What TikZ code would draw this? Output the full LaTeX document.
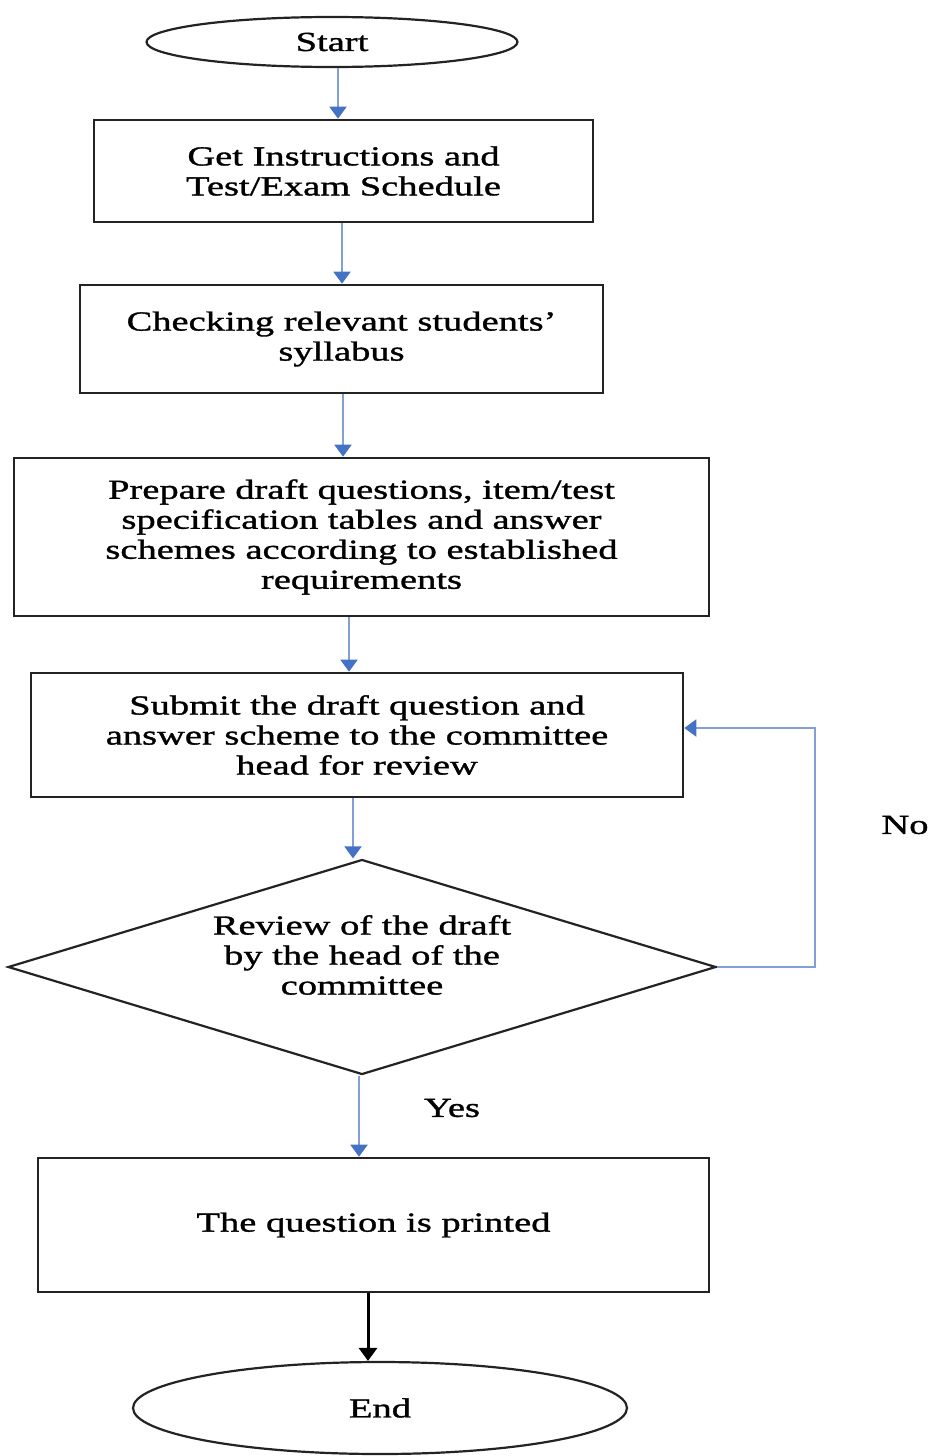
\documentclass[tikz,border=0pt]{standalone}
\usepackage{fontspec}
\setmainfont{Liberation Serif}[FakeStretch=1.4,FakeBold=1.2]
\usetikzlibrary{shapes.geometric,arrows.meta}
\definecolor{lineblue}{RGB}{130,160,215}
\definecolor{tipblue}{RGB}{68,114,196}
\definecolor{boxline}{RGB}{35,35,35}
\begin{document}
\begin{tikzpicture}[x=1pt,y=-1pt,
 every node/.style={font=\fontsize{27.5}{30}\selectfont, align=center},
 proc/.style={draw=boxline, line width=2.6pt, rectangle, inner sep=0pt},
 term/.style={draw=boxline, line width=2.2pt, ellipse, inner sep=0pt},
 decide/.style={draw=boxline, line width=2.2pt, diamond, inner sep=0pt, aspect=3.3},
 arr/.style={draw=lineblue, line width=2pt, -{Triangle[length=12pt,width=17pt,color=tipblue]}},
 blackarr/.style={draw=black, line width=3pt, -{Triangle[length=13pt,width=18pt]}}]
\useasboundingbox (0,0) rectangle (931,1456);

\node[term, minimum width=371pt, minimum height=50pt] (start) at (332,42) {Start};
\node[proc, minimum width=499pt, minimum height=102pt] (b1) at (343.5,171) {Get Instructions and\\Test/Exam Schedule};
\node[proc, minimum width=523pt, minimum height=108pt] (b2) at (341.5,339) {Checking relevant students’\\syllabus};
\node[proc, minimum width=695pt, minimum height=158pt] (b3) at (361.5,537) {Prepare draft questions, item/test\\specification tables and answer\\schemes according to established\\requirements};
\node[proc, minimum width=652pt, minimum height=124pt] (b4) at (357,735) {Submit the draft question and\\answer scheme to the committee\\head for review};
\node[decide, minimum width=708pt, minimum height=215pt,
      label={[yshift=12pt,align=center]center:Review of the draft\\by the head of the\\committee}] (dia) at (362,967) {};
\node[proc, minimum width=671pt, minimum height=134pt] (b5) at (373.5,1225) {The question is printed};
\node[term, minimum width=494pt, minimum height=92pt] (endn) at (380,1408) {End};

\node (no) at (905,825) {No};
\node (yes) at (452,1108) {Yes};

\draw[arr] (start.south -| 338,0) -- (b1.north -| 338,0);
\draw[arr] (b1.south -| 342,0) -- (b2.north -| 342,0);
\draw[arr] (b2.south -| 343,0) -- (b3.north -| 343,0);
\draw[arr] (b3.south -| 349,0) -- (b4.north -| 349,0);
\draw[arr] (b4.south -| 353,0) -- (dia.north -| 353,0);
\draw[arr] (dia.south -| 359,0) -- (b5.north -| 359,0);
\draw[arr] (dia.east) -- (815,0 |- dia.east) |- ([yshift=7pt]b4.east);
\draw[blackarr] (b5.south -| 368,0) -- (endn.north -| 368,0);
\end{tikzpicture}
\end{document}
